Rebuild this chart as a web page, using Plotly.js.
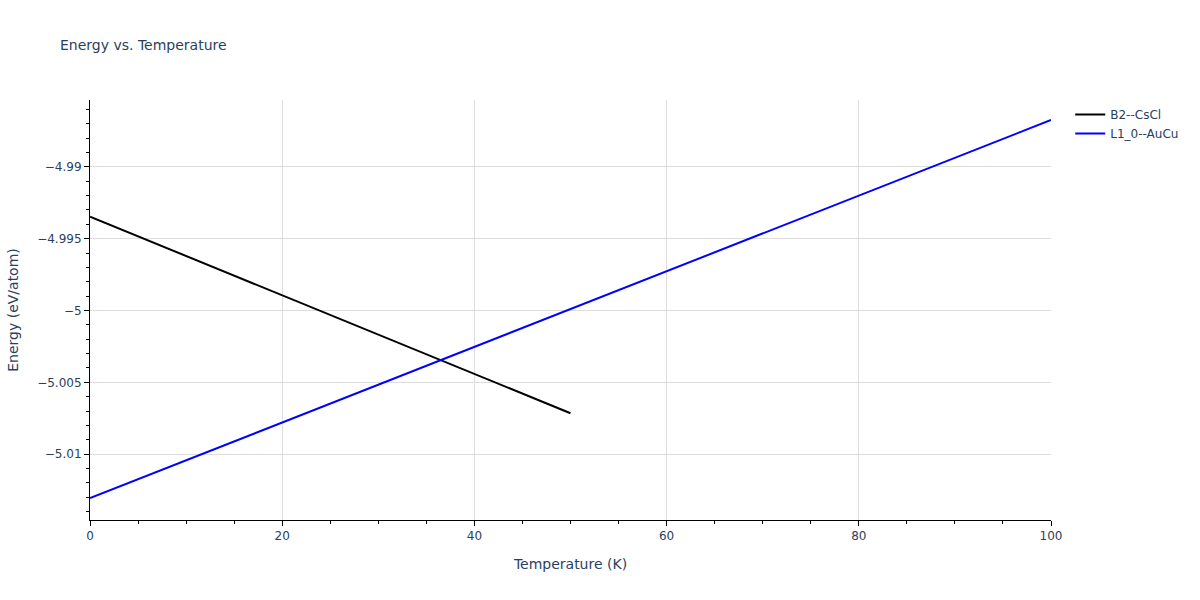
<!DOCTYPE html>
<html><head><meta charset="utf-8">
<script src="https://cdn.plot.ly/plotly-3.0.1.min.js"></script>
<style>body{margin:0}#chart{width:1200px;height:600px}</style>
</head><body><div id="chart"></div>
<script>
const b2Temps = [0, 50];
const b2Energy = [-4.99347, -5.00715];
const l10Temps = [0, 100];
const l10Energy = [-5.01306, -4.98674];

const traces = [
  {x: b2Temps, y: b2Energy, mode: 'lines', name: 'B2--CsCl', line: {color: 'black', width: 2}},
  {x: l10Temps, y: l10Energy, mode: 'lines', name: 'L1_0--AuCu', line: {color: 'blue', width: 2}}
];
const layout = {
  width: 1200, height: 600,
  font: {family: 'Verdana, "DejaVu Sans", sans-serif', color: '#2a3f5f', size: 12},
  title: {text: 'Energy vs. Temperature', x: 0.05, xanchor: 'left', y: 0.933, font: {size: 14}},
  margin: {l: 90, r: 149, t: 100, b: 80},
  paper_bgcolor: 'white', plot_bgcolor: 'white',
  xaxis: {title: {text: 'Temperature (K)', standoff: 16}, automargin: true, range: [0, 100], dtick: 20, showline: true, linecolor: 'black',
    ticks: 'outside', tickcolor: 'black', gridcolor: '#ddd', zeroline: false,
    minor: {dtick: 5, ticks: 'outside', tickcolor: 'black', showgrid: false}},
  yaxis: {title: {text: 'Energy (eV/atom)', standoff: 15}, automargin: true, range: [-5.01458, -4.98535], dtick: 0.005, showline: true, linecolor: 'black',
    ticks: 'outside', tickcolor: 'black', gridcolor: '#ddd', zeroline: false,
    minor: {dtick: 0.001, ticks: 'outside', tickcolor: 'black', showgrid: false}},
  legend: {x: 1.02, y: 1, xanchor: 'left', yanchor: 'top'}
};
Plotly.newPlot('chart', traces, layout, {displayModeBar: false});
</script></body></html>
